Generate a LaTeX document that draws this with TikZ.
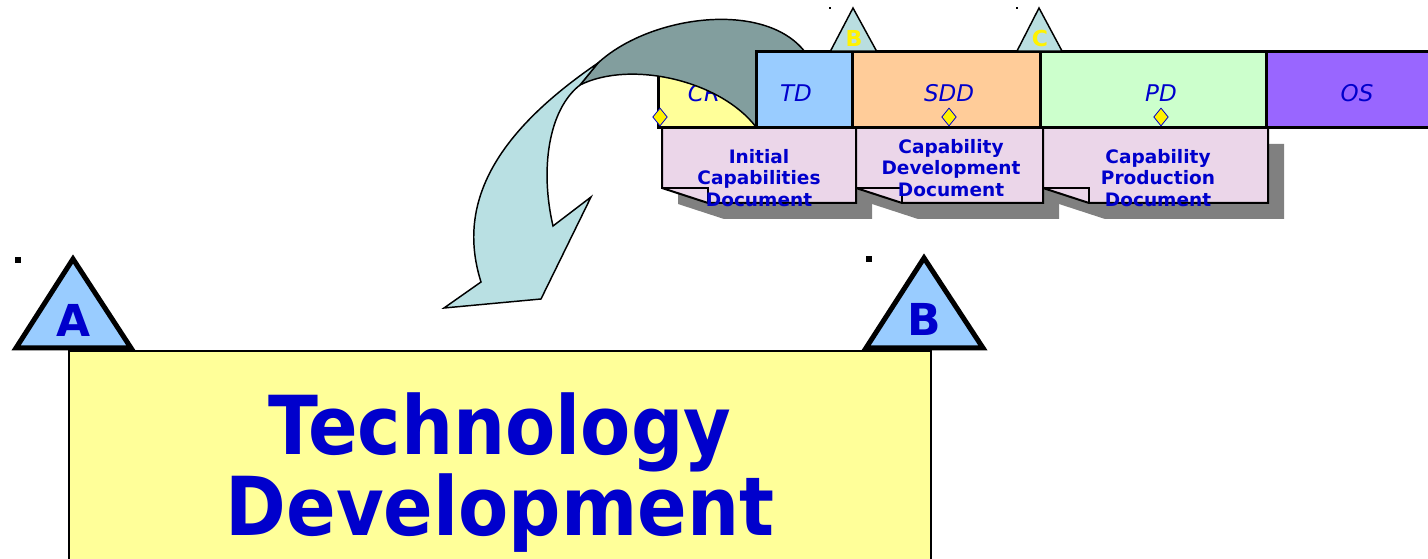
\documentclass[tikz,border=0pt]{standalone}
\usepackage{fontspec}
\setmainfont{DejaVu Sans}
\newfontfamily\condfont{DejaVu Sans Condensed}
\usetikzlibrary{shapes.geometric}

\definecolor{textblue}{RGB}{0,0,204}
\definecolor{cryellow}{RGB}{255,255,153}
\definecolor{tdblue}{RGB}{153,204,255}
\definecolor{sddorange}{RGB}{255,204,153}
\definecolor{pdgreen}{RGB}{204,255,204}
\definecolor{ospurple}{RGB}{153,102,255}
\definecolor{docpink}{RGB}{235,214,233}
\definecolor{shadowgray}{RGB}{128,128,128}
\definecolor{arrowlight}{RGB}{185,224,227}
\definecolor{arrowdark}{RGB}{130,158,158}
\definecolor{mstone}{RGB}{185,222,224}

\tikzset{every picture/.style={line width=0.75pt}}
\tikzset{
  phasebox/.style={draw=black, line width=2.25pt},
  phaselabel/.style={inner sep=0pt, text=textblue, font=\fontsize{17.25}{20}\selectfont\itshape},
  docbox/.style={draw=black, fill=docpink, line width=1.5pt, line join=miter},
  docshadow/.style={fill=shadowgray, draw=none},
  doclabel/.style={inner sep=0pt, align=center, text=textblue, font=\fontsize{13.9}{16.4}\selectfont\bfseries},
  milestone/.style={diamond, draw=textblue, fill=yellow, line width=0.6pt, inner sep=0pt, minimum width=11pt, minimum height=13.5pt},
  smalltri/.style={draw=black, fill=mstone, line width=1.1pt, line join=miter},
  smalltrilabel/.style={inner sep=0pt, text=yellow, font=\fontsize{16.5}{18}\selectfont\bfseries},
  bigtri/.style={draw=black, fill=tdblue, line width=3.75pt, line join=miter},
  bigtrilabel/.style={inner sep=0pt, text=textblue, font=\fontsize{33}{36}\selectfont\bfseries},
  speck/.style={fill=black, draw=none}
}

\begin{document}
\begin{tikzpicture}[x=0.75pt,y=0.75pt,yscale=-1,xscale=1]
        \useasboundingbox (0,0) rectangle (1428,559);

        %Document shapes: shadow first, then the page with its folded corner
        \foreach \l/\r in {662/856, 856/1043, 1043/1268} {
          \fill [docshadow] (\l+16,144) -- (\r+16,144) -- (\r+16,219) -- (\l+62,219) -- (\l+16,204) -- cycle ;
          \draw [docbox] (\l,128) -- (\r,128) -- (\r,203) -- (\l+46,203) -- (\l,188) -- cycle ;
          \draw [line width=1.1pt] (\l,188) -- (\l+46,188) -- (\l+46,203) ;
        }
        % Text Node
        \node [doclabel] (icd) at (759,178) {Initial\\Capabilities\\Document};
        % Text Node
        \node [doclabel] (cdd) at (951,168) {Capability\\Development\\Document};
        % Text Node
        \node [doclabel] (cpd) at (1158,178) {Capability\\Production\\Document};

        %Shape: Rectangle (CR)
        \draw [phasebox, fill=cryellow] (658,52) rectangle (756,127.5) ;
        % Text Node
        \node [phaselabel] (crlabel) at (704,93) {CR};

        %Curved arrow: back face
        \draw [fill=arrowdark, line width=1.1pt] (598,63) .. controls (650,15) and (765,0) .. (805,52) -- (790,90) -- (756,127) .. controls (720,80) and (630,60) .. (580,85) -- cycle ;
        %Curved arrow: front face
        \draw [fill=arrowlight, line width=1.1pt, line join=miter] (598,63) .. controls (500,130) and (455,200) .. (481,282) -- (444,308) -- (541,299) -- (591,197) -- (553,226) .. controls (540,170) and (548,110) .. (580,85) -- cycle ;

        %Shape: Rectangles (TD, SDD, PD, OS)
        \draw [phasebox, fill=tdblue] (756,52) rectangle (852,127.5) ;
        \draw [phasebox, fill=sddorange] (852,52) rectangle (1040,127.5) ;
        \draw [phasebox, fill=pdgreen] (1040,52) rectangle (1266,127.5) ;
        \draw [phasebox, fill=ospurple] (1266,52) rectangle (1440,127.5) ;
        % Text Node
        \node [phaselabel] (tdlabel) at (796,93) {TD};
        % Text Node
        \node [phaselabel] (sddlabel) at (949,93) {SDD};
        % Text Node
        \node [phaselabel] (pdlabel) at (1161,93) {PD};
        % Text Node
        \node [phaselabel] (oslabel) at (1357,93) {OS};

        %Milestone diamonds
        \node [milestone] (crms) at (660,117) {};
        \node [milestone] (sddms) at (949,117) {};
        \node [milestone] (pdms) at (1161,117) {};

        %Milestones B and C on the bar
        \draw [smalltri] (853,8) -- (876.5,51) -- (830.5,51) -- cycle ;
        \node [smalltrilabel] (mstb) at (854,38) {B};
        \draw [smalltri] (1039,8) -- (1062,51) -- (1017,51) -- cycle ;
        \node [smalltrilabel] (mstc) at (1040,38) {C};
        \fill [speck] (829,7) rectangle (831,9) ;
        \fill [speck] (1016,7) rectangle (1018,9) ;

        %Shape: Rectangle (Technology Development)
        \draw [draw=black, fill=cryellow, line width=1.5pt] (69,351) rectangle (931,570) ;
        % Text Node
        \node [inner sep=0pt, align=center, text=textblue, font=\condfont\fontsize{61}{57.75}\selectfont\bfseries, anchor=base] (title) at (500,535) {Technology\\Development};

        %Milestones A and B
        \draw [bigtri] (73,259) -- (131,348) -- (16,348) -- cycle ;
        \node [bigtrilabel] (msa) at (74,320) {A};
        \draw [bigtri] (924,258) -- (983,348) -- (866,348) -- cycle ;
        \node [bigtrilabel] (msb) at (924,319) {B};
        \fill [speck] (15,257) rectangle (21,263) ;
        \fill [speck] (866,256) rectangle (872,262) ;

    \end{tikzpicture}
\end{document}
